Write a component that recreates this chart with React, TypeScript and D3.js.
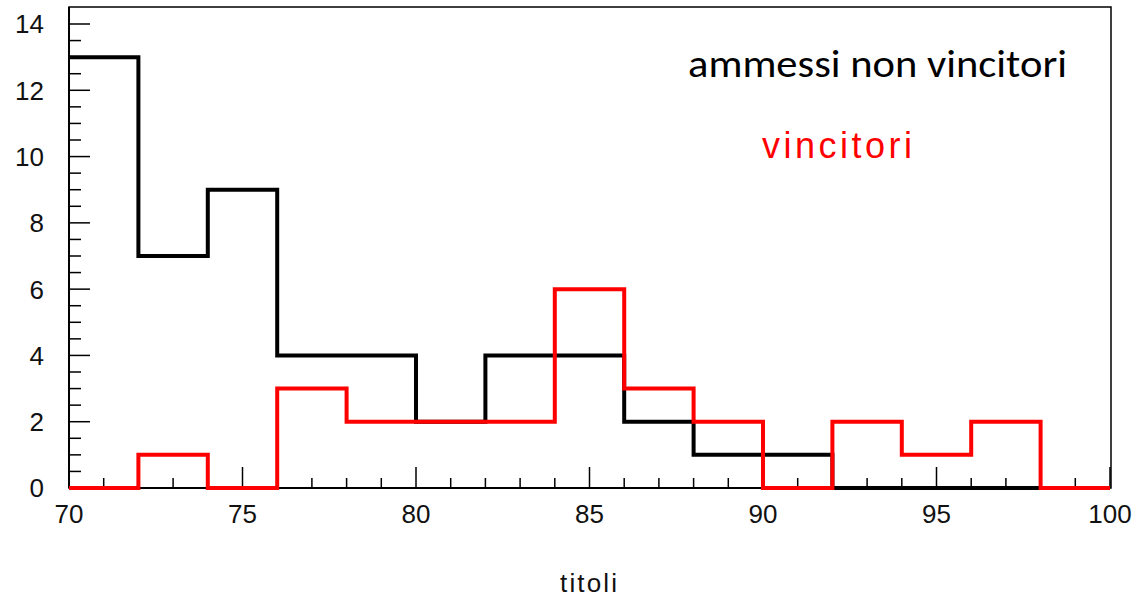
import React from "react";
import * as d3 from "d3";

const binEdges = [70, 72, 74, 76, 78, 80, 82, 84, 86, 88, 90, 92, 94, 96, 98, 100];
const ammessiNonVincitori = [13, 7, 9, 4, 4, 2, 4, 4, 2, 1, 1, 0, 0, 0, 0];
const vincitori = [0, 1, 0, 3, 2, 2, 2, 6, 3, 2, 0, 2, 1, 2, 0];
const xTickLabels = [70, 75, 80, 85, 90, 95, 100];
const yTickLabels = [0, 2, 4, 6, 8, 10, 12, 14];
const legendLabels = ["ammessi non vincitori", "vincitori"];
const axisTitle = "titoli";

const W = 1138;
const H = 598;
const left = 69;
const right = 1110;
const top = 7;
const bottom = 488;

export default function App() {
  const x = d3.scaleLinear().domain([70, 100]).range([left, right]);
  const y = d3.scaleLinear().domain([0, 14]).range([bottom, 24]);

  const stepPath = (vals: number[]) => {
    const pts: [number, number][] = [];
    vals.forEach((v, i) => {
      pts.push([x(binEdges[i]), y(v)]);
      pts.push([x(binEdges[i + 1]), y(v)]);
    });
    return d3.line()(pts) as string;
  };

  const minorY = d3.range(0, 14.01, 0.5);
  const minorX = d3.range(70, 100.01, 1);
  const tickFont = "'Liberation Sans', Arial, sans-serif";

  return (
    <div style={{ position: "absolute", left: 0, top: 0 }}>
      <svg width={W} height={H} style={{ display: "block", background: "#fff" }}>
        <rect x={left} y={top} width={right - left + 1} height={bottom - top} fill="none" stroke="#000" strokeWidth={1.5} />
        {minorY.map((v) => {
          const major = Math.abs(v % 2) < 1e-6;
          return (
            <line key={"yt" + v} x1={left} x2={left + (major ? 21 : 12)} y1={y(v)} y2={y(v)} stroke="#000" strokeWidth={1.5} />
          );
        })}
        {minorX.map((v) => {
          const major = v % 5 === 0;
          return (
            <line key={"xt" + v} x1={x(v)} x2={x(v)} y1={bottom} y2={bottom - (major ? 21 : 10)} stroke="#000" strokeWidth={1.5} />
          );
        })}
        <line x1={left} x2={left} y1={top} y2={bottom} stroke="#000" strokeWidth={2} />
        <line x1={left} x2={right} y1={bottom} y2={bottom} stroke="#000" strokeWidth={2} />
        {yTickLabels.map((v) => (
          <text key={"yl" + v} x={44} y={y(v)} dy="0.36em" textAnchor="end" fontFamily={tickFont} fontSize={26} fill="#111">
            {v}
          </text>
        ))}
        {xTickLabels.map((v) => (
          <text key={"xl" + v} x={x(v)} y={523} textAnchor="middle" fontFamily={tickFont} fontSize={26} fill="#111">
            {v}
          </text>
        ))}
        <path d={stepPath(ammessiNonVincitori)} fill="none" stroke="#000" strokeWidth={4} strokeLinejoin="miter" />
        <path d={stepPath(vincitori)} fill="none" stroke="#ff0000" strokeWidth={4} strokeLinejoin="miter" />
        <text x={688} y={77} fontFamily="Carlito, 'Open Sans', 'Liberation Sans', sans-serif" fontSize={39} fill="#000" textLength={379} lengthAdjust="spacingAndGlyphs">
          {legendLabels[0]}
        </text>
        <text x={762} y={158} fontFamily={tickFont} fontSize={36} fill="#ff0000" textLength={150} lengthAdjust="spacing">
          {legendLabels[1]}
        </text>
        <text x={560} y={592} fontFamily={tickFont} fontSize={26} fill="#111" textLength={57} lengthAdjust="spacing">
          {axisTitle}
        </text>
      </svg>
    </div>
  );
}
